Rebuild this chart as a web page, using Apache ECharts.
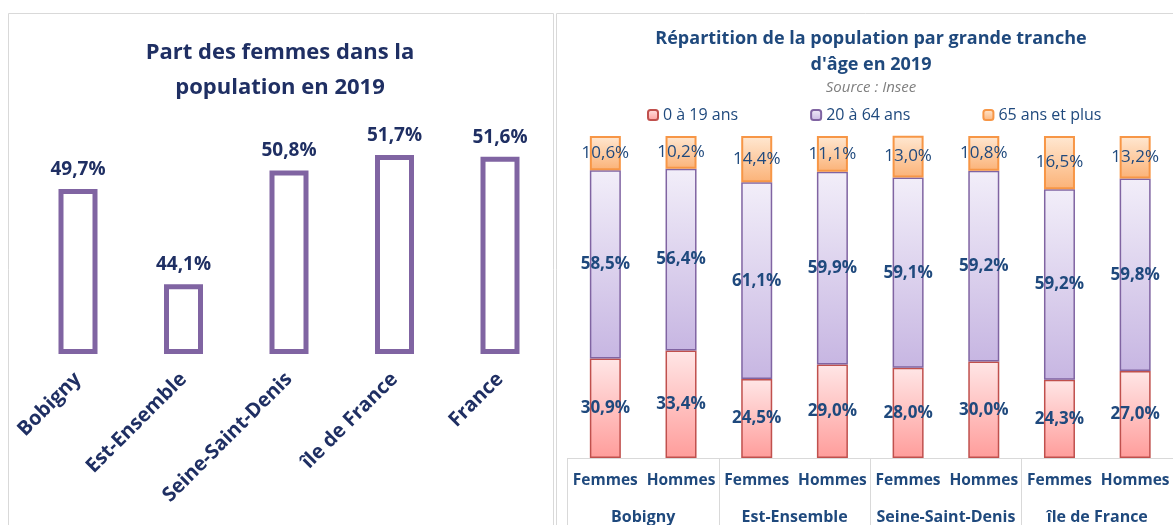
<!DOCTYPE html>
<html>
<head>
<meta charset="utf-8">
<script src="https://cdn.jsdelivr.net/npm/echarts@6/dist/echarts.min.js"></script>
<style>
html,body{margin:0;padding:0;background:#fff;}
#main{width:1173px;height:525px;}
</style>
</head>
<body>
<div id="main"></div>
<script>
// part des femmes
var territoires = ['Bobigny', 'Est-Ensemble', 'Seine-Saint-Denis', 'île de France', 'France'];
var partFemmes = [49.7, 44.1, 50.8, 51.7, 51.6];

// répartition par tranche d'âge
var groupes = ['Bobigny', 'Est-Ensemble', 'Seine-Saint-Denis', 'île de France'];
var sexes = ['Femmes', 'Hommes', 'Femmes', 'Hommes', 'Femmes', 'Hommes', 'Femmes', 'Hommes'];
var age0a19 = [30.9, 33.4, 24.5, 29.0, 28.0, 30.0, 24.3, 27.0];
var age20a64 = [58.5, 56.4, 61.1, 59.9, 59.1, 59.2, 59.2, 59.8];
var age65plus = [10.6, 10.2, 14.4, 11.1, 13.0, 10.8, 16.5, 13.2];

var FONT = 'Open Sans';
var navy = '#1F2F63';
var blue = '#1F497D';

function pct(p) {
    return p.value.toFixed(1).replace('.', ',') + '%';
}
function grad(top, bottom) {
    return new echarts.graphic.LinearGradient(0, 0, 0, 1, [
        {offset: 0, color: top},
        {offset: 1, color: bottom}
    ]);
}

var myChart = echarts.init(document.getElementById('main'));

var option = {
    backgroundColor: '#fff',
    textStyle: {fontFamily: FONT},
    animation: false,
    title: [
        {
            text: 'Part des femmes dans la\npopulation en 2019',
            left: 280, top: 35, textAlign: 'center', padding: 0,
            textStyle: {fontFamily: FONT, fontSize: 22, fontWeight: 'bold', color: navy, lineHeight: 35}
        },
        {
            text: "Répartition de la population par grande tranche\nd'âge en 2019",
            subtext: 'Source : Insee',
            left: 871, top: 26, textAlign: 'center', padding: 0, itemGap: 2,
            textStyle: {fontFamily: FONT, fontSize: 18, fontWeight: 'bold', color: blue, lineHeight: 26},
            subtextStyle: {fontFamily: FONT, fontSize: 15, fontStyle: 'italic', color: '#7F7F7F', lineHeight: 16}
        }
    ],
    legend: {
        data: ['0 à 19 ans', '20 à 64 ans', '65 ans et plus'],
        left: 642, top: 102,
        itemWidth: 10, itemHeight: 10, itemGap: 72,
        textStyle: {fontFamily: FONT, fontSize: 16, color: blue}
    },
    graphic: [
        {type: 'rect', shape: {x: 8.5, y: 13.5, width: 545, height: 600}, style: {fill: 'none', stroke: '#D9D9D9', lineWidth: 1}, silent: true},
        {type: 'rect', shape: {x: 556.5, y: 13.5, width: 700, height: 600}, style: {fill: 'none', stroke: '#D9D9D9', lineWidth: 1}, silent: true}
    ],
    grid: [
        {left: 25.25, width: 527.5, top: 150, height: 204},
        {left: 567.5, width: 607, top: 136, height: 322}
    ],
    xAxis: [
        {
            gridIndex: 0, type: 'category', data: territoires,
            axisLine: {show: false}, axisTick: {show: false},
            axisLabel: {rotate: 45, margin: 22, interval: 0, fontFamily: FONT, fontSize: 20, fontWeight: 'bold', color: navy}
        },
        {
            gridIndex: 1, type: 'category', data: sexes, position: 'bottom',
            axisLine: {show: true, lineStyle: {color: '#D9D9D9', width: 1}},
            axisTick: {show: false},
            axisLabel: {margin: 15, interval: 0, fontFamily: FONT, fontSize: 15.5, fontWeight: 'bold', color: blue}
        },
        {
            gridIndex: 1, type: 'category', data: groupes, position: 'bottom',
            axisLine: {show: false},
            axisTick: {show: true, length: 70, interval: 0, lineStyle: {color: '#D9D9D9', width: 1}},
            axisLabel: {margin: 51, interval: 0, fontFamily: FONT, fontSize: 16, fontWeight: 'bold', color: blue}
        }
    ],
    yAxis: [
        {gridIndex: 0, type: 'value', min: 40, max: 52, startValue: 40, show: false},
        {gridIndex: 1, type: 'value', min: 0, max: 100, show: false}
    ],
    series: [
        {
            name: 'Part des femmes', type: 'bar',
            xAxisIndex: 0, yAxisIndex: 0,
            data: partFemmes, barWidth: 39, clip: false,
            itemStyle: {color: '#fff', borderColor: '#8064A2', borderWidth: 5},
            label: {show: true, position: 'top', distance: 10, formatter: pct,
                fontFamily: FONT, fontSize: 19, fontWeight: 'bold', color: navy}
        },
        {
            name: '0 à 19 ans', type: 'bar', stack: 'age',
            xAxisIndex: 1, yAxisIndex: 1,
            data: age0a19, barWidth: 31, clip: false,
            itemStyle: {color: grad('#FFE6E6', '#FF9D9B'), borderColor: '#C0504D', borderWidth: 1.5},
            label: {show: true, position: 'inside', formatter: pct,
                fontFamily: FONT, fontSize: 17, fontWeight: 'bold', color: blue}
        },
        {
            name: '20 à 64 ans', type: 'bar', stack: 'age',
            xAxisIndex: 1, yAxisIndex: 1,
            data: age20a64, barWidth: 31, clip: false,
            itemStyle: {color: grad('#F2EEF9', '#C7B6E2'), borderColor: '#8064A2', borderWidth: 1.5},
            label: {show: true, position: 'inside', formatter: pct,
                fontFamily: FONT, fontSize: 17, fontWeight: 'bold', color: blue}
        },
        {
            name: '65 ans et plus', type: 'bar', stack: 'age',
            xAxisIndex: 1, yAxisIndex: 1,
            data: age65plus, barWidth: 31, clip: false,
            itemStyle: {color: grad('#FFE8D2', '#FBB277'), borderColor: '#F79646', borderWidth: 2},
            label: {show: true, position: 'inside', formatter: pct,
                fontFamily: FONT, fontSize: 17, fontWeight: 'normal', color: blue}
        }
    ]
};

myChart.setOption(option);
</script>
</body>
</html>
